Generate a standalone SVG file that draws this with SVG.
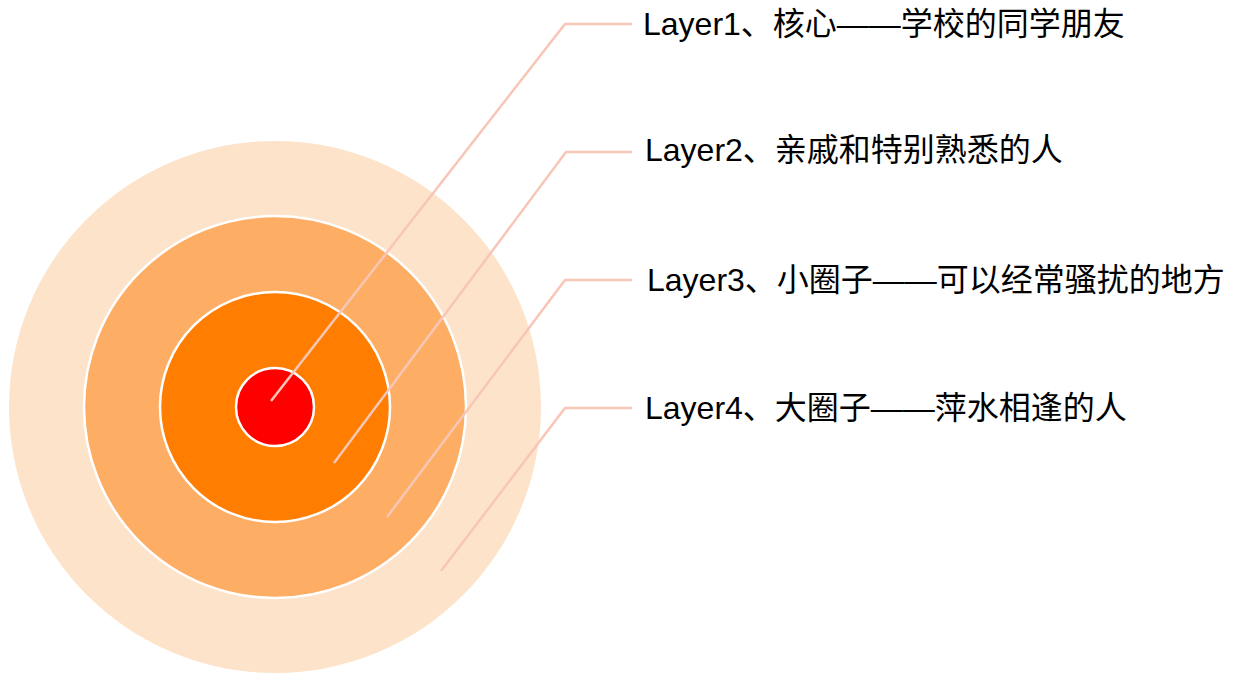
<svg xmlns="http://www.w3.org/2000/svg" width="1235" height="673" viewBox="0 0 1235 673">
<style>
.ring{stroke:#FFFFFF;stroke-width:2.5}
.lead{fill:none;stroke:#F8C6B6;stroke-width:2.5;stroke-linejoin:miter}
.label{font-family:"Liberation Sans","Noto Sans CJK SC",sans-serif;font-size:32px;fill:#000000}
</style>
<rect width="1235" height="673" fill="#FFFFFF"/>
<g id="layer4"><circle cx="275" cy="407" r="266" fill="#FDE3CA"/></g>
<g id="layer3"><circle class="ring" cx="275" cy="407" r="191" fill="#FDAE64"/></g>
<g id="layer2"><circle class="ring" cx="275" cy="407" r="115" fill="#FF7D00"/></g>
<g id="layer1"><circle class="ring" cx="275" cy="407" r="39" fill="#FF0000"/></g>
<g id="connectors">
<polyline class="lead" points="271,401 565,24 632,24"/>
<polyline class="lead" points="334,463 566,152 632,152"/>
<polyline class="lead" points="387,517 565,280 632,280"/>
<polyline class="lead" points="441,571 565,408 632,408"/>
</g>
<g id="label1"><text class="label" x="643" y="35">Layer1、核心——学校的同学朋友</text></g>
<g id="label2"><text class="label" x="645" y="161">Layer2、亲戚和特别熟悉的人</text></g>
<g id="label3"><text class="label" x="647" y="291">Layer3、小圈子——可以经常骚扰的地方</text></g>
<g id="label4"><text class="label" x="645" y="419">Layer4、大圈子——萍水相逢的人</text></g>
</svg>
